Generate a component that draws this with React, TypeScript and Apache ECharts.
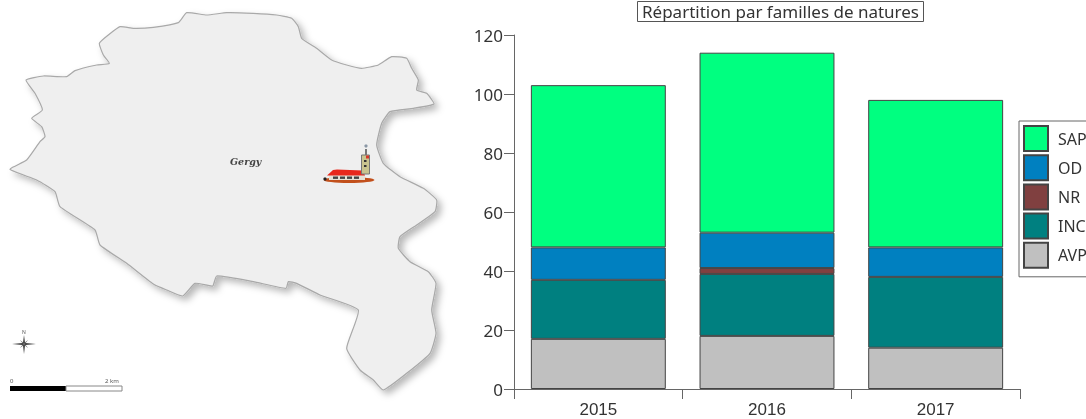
import React, { useEffect, useRef } from "react";
import * as echarts from "echarts";

const years = ["2015", "2016", "2017"];
const avp = [17, 18, 14];
const inc = [20, 21, 24];
const nr = [null, 2, null];
const od = [11, 12, 10];
const sap = [55, 61, 50];
const legendOrder = ["SAP", "OD", "NR", "INC", "AVP"];
const FONT = "'Noto Sans', sans-serif";

// Commune outline, traced at 3x from the reference image
const outline3x: number[][] = [
  [78,240],[130,228],[200,230],[225,212],[290,195],[328,190],[310,165],[298,130],[325,105],[360,80],[400,85],[460,82],[535,68],[560,38],[620,45],[680,38],[760,40],[830,45],[875,55],[895,80],[905,115],[950,145],[995,180],[1040,195],[1085,205],[1135,195],[1175,170],[1220,175],[1235,205],[1255,240],[1250,270],[1280,280],[1302,312],[1240,325],[1170,335],[1145,370],[1130,435],[1150,490],[1200,530],[1270,565],[1310,600],[1305,635],[1250,675],[1200,710],[1195,745],[1230,785],[1285,815],[1308,850],[1295,930],[1308,1000],[1290,1060],[1220,1120],[1150,1170],[1120,1140],[1080,1110],[1040,1045],[1075,930],[960,885],[890,850],[865,845],[858,865],[760,845],[650,828],[638,858],[585,850],[548,888],[500,870],[460,852],[380,790],[300,735],[285,690],[180,620],[165,575],[110,540],[30,508],[80,480],[120,425],[135,410],[125,380],[95,355],[127,330],[105,280],
];
const outline = outline3x.map(([x, y]) => [x / 3, y / 3]);

function mapGraphics(): any[] {
  const poly = (points: number[][], fill: string) => ({
    type: "polygon", shape: { points }, style: { fill, stroke: "none" },
  });
  const rect = (x: number, y: number, width: number, height: number, fill: string, stroke?: string) => ({
    type: "rect", shape: { x, y, width, height }, style: { fill, stroke: stroke || "none", lineWidth: stroke ? 1 : 0 },
  });
  const txt = (x: number, y: number, text: string, fontSize: number, extra: any = {}) => ({
    type: "text", x, y, style: { text, fontSize, fontFamily: FONT, fill: "#555", ...extra },
  });
  return [
    { type: "polygon", shape: { points: outline, smooth: 0.15 },
      style: { fill: "#efefef", stroke: "#a9a9a9", lineWidth: 1.2, shadowBlur: 7, shadowOffsetX: 4, shadowOffsetY: 4, shadowColor: "rgba(0,0,0,0.28)" } },
    txt(230, 156, "Gergy", 9.5, { fontStyle: "italic", fontWeight: "bold", fontFamily: "'DejaVu Serif', serif", fill: "#444" }),
    // church
    { type: "ellipse", shape: { cx: 349, cy: 180, rx: 25.5, ry: 3 }, style: { fill: "#c2501c" } },
    rect(329, 175, 36, 5, "#e6e2d6"),
    rect(333, 176.5, 5, 2.4, "#444"), rect(340, 176.5, 5, 2.4, "#444"), rect(347, 176.5, 5, 2.4, "#444"), rect(354, 176.5, 5, 2.4, "#444"),
    poly([[327,175.5],[333,170],[337,169.5],[363,170.5],[365,175.5]], "#e8281c"),
    rect(361.5, 155, 8, 19, "#c9c48f", "#777"),
    rect(365, 149, 2, 6, "#777"),
    { type: "circle", shape: { cx: 366, cy: 146, r: 1.6 }, style: { fill: "#8a97a5" } },
    rect(366, 155.5, 3, 3, "#d8362a"),
    rect(364, 160, 2.5, 2, "#333"), rect(364, 165, 2.5, 2, "#333"),
    { type: "circle", shape: { cx: 325, cy: 179, r: 1.6 }, style: { fill: "#222" } },
    // north arrow
    poly([[24,335],[25,343],[36,344],[25,345],[24,354],[23,345],[12,344],[23,343]], "#333"),
    poly([[20,340],[24.5,343.5],[28,348],[23.5,344.5]], "#666"),
    poly([[28,340],[24.5,344.5],[20,348],[23.5,343.5]], "#666"),
    txt(22, 329, "N", 5),
    // scale bar
    rect(10, 386, 56, 5, "#000"),
    rect(66, 386, 56, 5, "#fff", "#888"),
    txt(10, 378, "0", 6),
    txt(105, 378, "2 km", 6),
  ];
}

const stroke = "#444";
const mk = (name: string, data: any[], color: string) => ({
  name, type: "bar", stack: "t", data, barWidth: "80%",
  itemStyle: { color, borderColor: stroke, borderWidth: 1 },
});

export default function App() {
  const ref = useRef<HTMLDivElement>(null);
  useEffect(() => {
    const chart = echarts.init(ref.current!, null, { renderer: "svg" });
    chart.setOption({
      animation: false,
      backgroundColor: "#fff",
      textStyle: { fontFamily: FONT },
      title: {
        text: "Répartition par familles de natures",
        left: 637, top: 1, padding: [2, 5, 2, 5],
        borderColor: "#555", borderWidth: 1,
        textStyle: { fontSize: 17, fontWeight: "normal", color: "#333", fontFamily: FONT },
      },
      grid: { left: 514, top: 35, right: 66, bottom: 30, outerBoundsMode: "none" },
      legend: {
        orient: "vertical", left: 1019, top: 121, data: legendOrder,
        icon: "rect", itemWidth: 24, itemHeight: 25, itemGap: 2.2,
        padding: [4, 30, 8, 4], borderColor: "#666", borderWidth: 1, backgroundColor: "#fff",
        textStyle: { fontSize: 16, color: "#333", fontFamily: FONT, padding: [0, 0, 0, 5] },
      },
      xAxis: {
        type: "category", data: years,
        axisLine: { lineStyle: { color: "#666", width: 1 } },
        axisTick: { show: true, length: 10, alignWithLabel: false, lineStyle: { color: "#666" } },
        axisLabel: { fontSize: 17, lineHeight: 17, color: "#333", margin: 12, fontFamily: "'Liberation Sans', sans-serif" },
      },
      yAxis: {
        type: "value", min: 0, max: 120, interval: 20,
        splitLine: { show: false },
        axisLine: { show: true, lineStyle: { color: "#666", width: 1 } },
        axisTick: { show: true, length: 10, lineStyle: { color: "#666" } },
        axisLabel: { fontSize: 17, color: "#333", margin: 11 },
      },
      series: [mk("AVP", avp, "#c0c0c0"), mk("INC", inc, "#008080"), mk("NR", nr, "#804040"), mk("OD", od, "#0080c0"), mk("SAP", sap, "#00ff80")],
      graphic: mapGraphics(),
    });
    return () => chart.dispose();
  }, []);
  return <div ref={ref} style={{ position: "fixed", left: 0, top: 0, width: 1086, height: 419, filter: "blur(0.4px)" }} />;
}
